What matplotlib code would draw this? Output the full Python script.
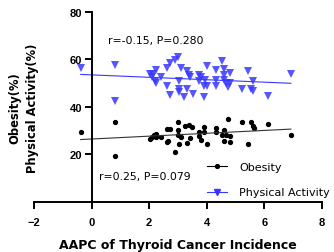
import numpy as np
import matplotlib
matplotlib.use("Agg")
import matplotlib.pyplot as plt
from matplotlib.lines import Line2D

# AAPC of thyroid cancer incidence (x) and physical activity (%)
pa_x = [-0.38, 0.81, 0.81, 2.02, 2.10, 2.19, 2.24, 2.13, 2.23, 2.41, 2.61, 2.71, 2.61, 2.71,
        2.91, 3.00, 3.03, 3.03, 3.03, 3.10, 3.22, 3.30, 3.30, 3.38, 3.42, 3.52, 3.72, 3.72,
        3.81, 3.90, 3.90, 3.92, 4.00, 4.00, 4.31, 4.31, 4.31, 4.53, 4.60, 4.60, 4.60, 4.68,
        4.72, 4.80, 4.82, 5.22, 5.42, 5.52, 5.59, 5.61, 6.13, 6.92]
pa_y = [56.3, 57.5, 42.6, 53.8, 52.4, 51.0, 49.9, 53.8, 55.4, 52.8, 48.9, 44.9, 56.4, 58.6,
        59.9, 61.0, 50.8, 47.4, 46.2, 56.4, 44.0, 55.1, 47.4, 53.3, 52.4, 45.4, 53.3, 50.8,
        52.4, 44.0, 48.9, 51.5, 57.2, 48.9, 55.4, 51.5, 48.9, 59.4, 56.1, 53.5, 51.5, 49.9,
        48.5, 54.3, 50.1, 47.4, 55.0, 47.4, 46.7, 50.8, 44.7, 53.8]

# AAPC (x) and obesity (%)
ob_x = [-0.38, 0.81, 0.81, 2.02, 2.09, 2.16, 2.24, 2.25, 2.42, 2.60, 2.65, 2.60, 2.71, 2.89,
        3.01, 3.01, 3.01, 3.04, 3.10, 3.23, 3.30, 3.38, 3.41, 3.50, 3.72, 3.72, 3.81, 3.90,
        3.90, 4.02, 4.31, 4.31, 4.53, 4.61, 4.61, 4.72, 4.68, 4.80, 4.82, 5.22, 5.43, 5.52,
        5.61, 5.63, 6.13, 6.92]
ob_y = [29.4, 33.5, 19.3, 26.5, 27.4, 28.1, 28.6, 27.4, 27.4, 25.1, 25.8, 30.8, 30.8, 21.1,
        33.5, 30.4, 28.1, 24.2, 27.2, 32.1, 24.7, 32.5, 27.0, 31.4, 29.6, 27.6, 26.2, 31.4,
        29.3, 24.5, 31.0, 29.3, 28.3, 30.4, 25.5, 34.9, 28.3, 27.6, 25.1, 33.7, 24.5, 33.7,
        32.1, 31.1, 32.8, 28.3]

pa_label = "r=-0.15, P=0.280"
ob_label = "r=0.25, P=0.079"
x_ticks = [-2, 0, 2, 4, 6, 8]
y_ticks = [20, 40, 60, 80]

blue = "#3838ff"
fig = plt.figure(figsize=(3.34, 2.53), dpi=100)
ax = fig.add_axes([0.102, 0.198, 0.862, 0.751])
ax.set_xlim(-2, 8)
ax.set_ylim(0, 80)

ax.plot(pa_x, pa_y, linestyle="none", marker="v", color=blue, markersize=5.5,
        markeredgewidth=0, alpha=0.85)
ax.plot(ob_x, ob_y, linestyle="none", marker="o", color="black", markersize=2.8)

for xs, ys, c in [(pa_x, pa_y, blue), (ob_x, ob_y, "#333333")]:
    k, b = np.polyfit(xs, ys, 1)
    xx = np.array([min(xs), max(xs)])
    ax.plot(xx, k * xx + b, color=c, linewidth=0.8)

ax.spines["top"].set_visible(False)
ax.spines["right"].set_visible(False)
ax.spines["left"].set_position(("data", 0))
ax.spines["left"].set_bounds(0, 80)
ax.spines["left"].set_linewidth(1.4)
ax.spines["bottom"].set_linewidth(1.4)
ax.set_xticks(x_ticks)
ax.set_yticks(y_ticks)
ax.tick_params(width=1.4, length=5, labelsize=8)
ax.tick_params(axis="x", pad=6)
ax.tick_params(axis="y", pad=2)
for lab in ax.get_xticklabels() + ax.get_yticklabels():
    lab.set_fontweight("bold")
    lab.set_fontfamily("Liberation Sans")

ax.text(0.56, 68.3, pa_label, fontsize=7.8, ha="left", va="center")
ax.text(0.24, 11, ob_label, fontsize=7.8, ha="left", va="center")

handles = [Line2D([], [], color="black", marker="o", markersize=2.8, linewidth=0.8),
           Line2D([], [], color=blue, marker="v", markersize=5, linewidth=0.8)]
ax.legend(handles, ["Obesity", "Physical Activity"], loc="upper left",
          bbox_to_anchor=(0.601, 0.209), frameon=False, fontsize=8,
          borderpad=0, borderaxespad=0,
          handlelength=1.8, handletextpad=1.1, labelspacing=1.37)

ax.set_xlabel("AAPC of Thyroid Cancer Incidence", fontsize=9, fontweight="bold", labelpad=8)
fig.text(0.045, 0.573, "Obesity(%)", rotation=90, fontsize=8.3, fontweight="bold",
         ha="center", va="center")
fig.text(0.096, 0.573, "Physical Activity(%)", rotation=90, fontsize=8.3, fontweight="bold",
         ha="center", va="center")

fig.savefig("out.png", dpi=100)
